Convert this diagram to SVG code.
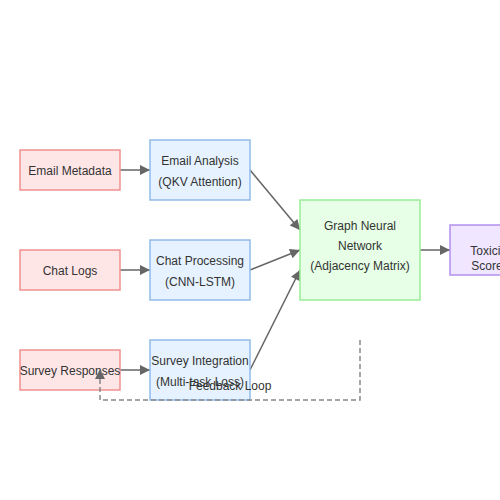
<svg xmlns="http://www.w3.org/2000/svg" width="500" height="500" viewBox="0 0 500 500">
<defs>
<style>
.txt{font-family:"Liberation Sans",Arial,sans-serif;font-size:12px;fill:#333;text-anchor:middle;dominant-baseline:central}
.in{fill:#ffe6e6;stroke:#f09090;stroke-width:1.5}
.proc{fill:#e6f2ff;stroke:#90baea;stroke-width:1.5}
.gnn{fill:#e6ffe6;stroke:#98ee98;stroke-width:1.5}
.out{fill:#f0e6ff;stroke:#b390ee;stroke-width:1.5}
.edge{stroke:#666;stroke-width:1.5;fill:none}
.fb{stroke:#888;stroke-width:1.5;fill:none;stroke-dasharray:5,3}
</style>
<marker id="arr" viewBox="0 0 10 10" refX="10" refY="5" markerWidth="13" markerHeight="10" markerUnits="userSpaceOnUse" orient="auto">
<path d="M0,0 L10,5 L0,10 z" fill="#666"/>
</marker>
</defs>
<rect width="500" height="500" fill="#fff"/>
<g id="edges">
<line class="edge" x1="120" y1="170" x2="150" y2="170" marker-end="url(#arr)"/>
<line class="edge" x1="120" y1="270" x2="150" y2="270" marker-end="url(#arr)"/>
<line class="edge" x1="120" y1="370" x2="150" y2="370" marker-end="url(#arr)"/>
<line class="edge" x1="250" y1="170" x2="300" y2="230" marker-end="url(#arr)"/>
<line class="edge" x1="250" y1="270" x2="300" y2="250" marker-end="url(#arr)"/>
<line class="edge" x1="250" y1="370" x2="300" y2="270" marker-end="url(#arr)"/>
<line class="edge" x1="420" y1="250" x2="450" y2="250" marker-end="url(#arr)"/>
</g>
<g id="email-metadata"><rect class="in" x="20" y="150" width="100" height="40"/><text class="txt" x="70" y="171">Email Metadata</text></g>
<g id="chat-logs"><rect class="in" x="20" y="250" width="100" height="40"/><text class="txt" x="70" y="271">Chat Logs</text></g>
<g id="survey-responses"><rect class="in" x="20" y="350" width="100" height="40"/><text class="txt" x="70" y="371">Survey Responses</text></g>
<g id="email-analysis"><rect class="proc" x="150" y="140" width="100" height="60"/><text class="txt" x="200" y="161">Email Analysis</text><text class="txt" x="200" y="182">(QKV Attention)</text></g>
<g id="chat-processing"><rect class="proc" x="150" y="240" width="100" height="60"/><text class="txt" x="200" y="261">Chat Processing</text><text class="txt" x="200" y="282">(CNN-LSTM)</text></g>
<g id="survey-integration"><rect class="proc" x="150" y="340" width="100" height="60"/><text class="txt" x="200" y="361">Survey Integration</text><text class="txt" x="200" y="382">(Multi-task Loss)</text></g>
<g id="gnn"><rect class="gnn" x="300" y="200" width="120" height="100"/><text class="txt" x="360" y="226">Graph Neural</text><text class="txt" x="360" y="246">Network</text><text class="txt" x="360" y="266">(Adjacency Matrix)</text></g>
<g id="toxicity-score"><rect class="out" x="450" y="225" width="100" height="50"/><text class="txt" x="490" y="251">Toxicity</text><text class="txt" x="487" y="266">Score</text></g>
<g id="feedback">
<path class="fb" d="M360,340 L360,400 L100,400 L100,369" marker-end="url(#arr)"/>
<text class="txt" x="230" y="386">Feedback Loop</text>
</g>
</svg>
